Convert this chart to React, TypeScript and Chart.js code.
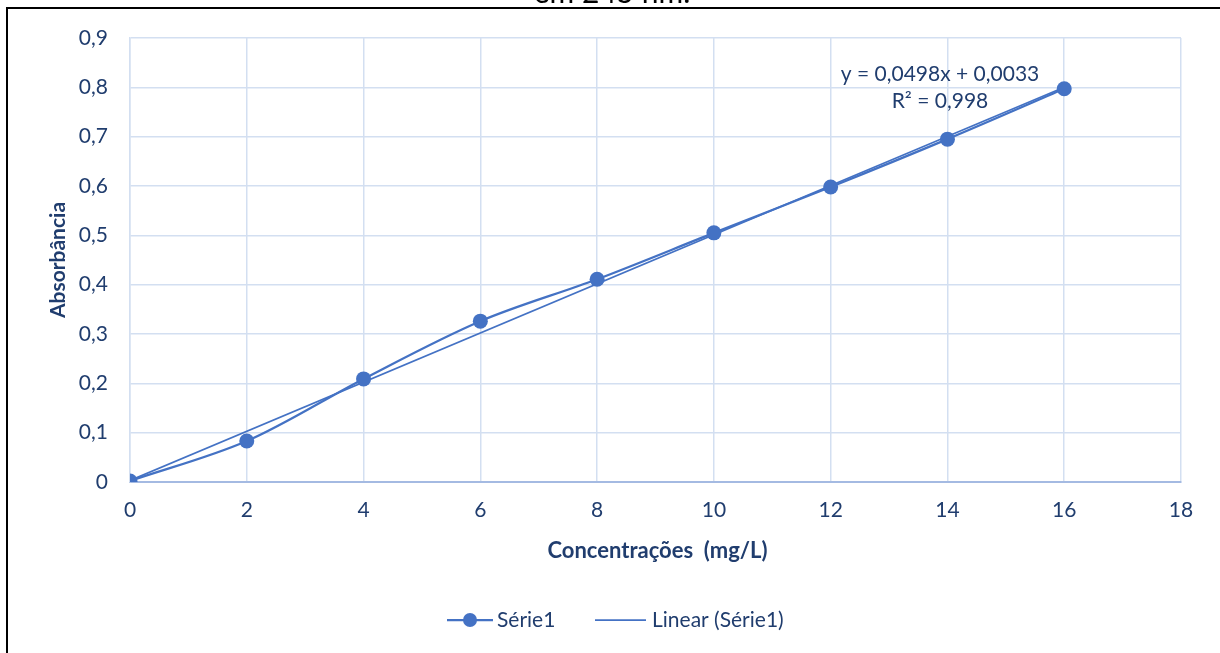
import React, { useEffect, useRef } from 'react';
import { Chart, registerables } from 'chart.js';

Chart.register(...registerables);

const concentrations = [0, 2, 4, 6, 8, 10, 12, 14, 16];
const absorbance = [0.002, 0.083, 0.209, 0.326, 0.411, 0.505, 0.598, 0.695, 0.797];
const trendX = [0, 16];
const trendY = [0.0033, 0.8001];
const xTickLabels = ['0', '2', '4', '6', '8', '10', '12', '14', '16', '18'];
const yTickLabels = ['0', '0,1', '0,2', '0,3', '0,4', '0,5', '0,6', '0,7', '0,8', '0,9'];
const seriesLabel = 'Série1';
const trendLabel = 'Linear (Série1)';
const equationLines = ['y = 0,0498x + 0,0033', 'R² = 0,998'];
const chartTitle = 'em 245 nm.';
const xTitle = 'Concentrações  (mg/L)';
const yTitle = 'Absorbância';

const BLUE = '#4472C4';
const TEXT = '#203D6E';
const GRID = '#D3DFF1';
const FONT = 'Lato, "Open Sans", sans-serif';

const overlay = {
  id: 'overlay',
  afterDraw(chart: any) {
    const ctx = chart.ctx;
    const area = chart.chartArea;
    ctx.save();
    // frame
    ctx.strokeStyle = '#000';
    ctx.lineWidth = 2;
    ctx.beginPath();
    ctx.moveTo(7, 653);
    ctx.lineTo(7, 8);
    ctx.lineTo(1220, 8);
    ctx.stroke();
    // cropped title
    ctx.fillStyle = '#000';
    ctx.font = `30px ${FONT}`;
    ctx.textAlign = 'center';
    ctx.textBaseline = 'alphabetic';
    ctx.fillText(chartTitle, 612, 3);
    // y title
    ctx.fillStyle = TEXT;
    ctx.font = `bold 21px ${FONT}`;
    ctx.textBaseline = 'middle';
    ctx.save();
    ctx.translate(58, (area.top + area.bottom) / 2);
    ctx.rotate(-Math.PI / 2);
    ctx.fillText(yTitle, 0, 0);
    ctx.restore();
    // x title
    ctx.font = `bold 22px ${FONT}`;
    ctx.fillText(xTitle, (area.left + area.right) / 2 + 2, 551);
    // equation
    ctx.font = `21px ${FONT}`;
    ctx.fillText(equationLines[0], 940, 74);
    ctx.fillText(equationLines[1], 940, 101);
    // legend
    const ly = 620;
    ctx.strokeStyle = BLUE;
    ctx.lineWidth = 2.25;
    ctx.beginPath();
    ctx.moveTo(447, ly);
    ctx.lineTo(493, ly);
    ctx.stroke();
    ctx.fillStyle = BLUE;
    ctx.beginPath();
    ctx.arc(470, ly, 7, 0, Math.PI * 2);
    ctx.fill();
    ctx.lineWidth = 1.75;
    ctx.beginPath();
    ctx.moveTo(595, ly);
    ctx.lineTo(646, ly);
    ctx.stroke();
    ctx.fillStyle = TEXT;
    ctx.textAlign = 'left';
    ctx.fillText(seriesLabel, 497, ly);
    ctx.fillText(trendLabel, 652, ly);
    ctx.restore();
  },
};

export default function App() {
  const ref = useRef<HTMLCanvasElement>(null);
  useEffect(() => {
    if (!ref.current) return;
    const chart = new Chart(ref.current, {
      type: 'scatter',
      data: {
        datasets: [
          {
            label: seriesLabel,
            data: concentrations.map((x, i) => ({ x, y: absorbance[i] })),
            showLine: true,
            borderColor: BLUE,
            backgroundColor: BLUE,
            borderWidth: 2.25,
            pointRadius: 7.5,
            pointBorderWidth: 0,
            tension: 0.33,
            order: 1,
          },
          {
            label: trendLabel,
            data: trendX.map((x, i) => ({ x, y: trendY[i] })),
            showLine: true,
            borderColor: BLUE,
            backgroundColor: BLUE,
            borderWidth: 1.75,
            pointRadius: 0,
            order: 2,
          },
        ],
      },
      options: {
        animation: false,
        responsive: false,
        layout: { padding: { left: 0, top: 38, right: 39, bottom: 0 } },
        plugins: { legend: { display: false }, tooltip: { enabled: false }, title: { display: false } },
        scales: {
          x: {
            type: 'linear',
            min: 0,
            max: 18,
            ticks: {
              stepSize: 2,
              color: TEXT,
              font: { family: FONT, size: 21 },
              padding: 16,
              maxRotation: 0,
              callback: (_v: any, i: number) => xTickLabels[i],
            },
            grid: { color: GRID, lineWidth: 1.5, drawTicks: false },
            border: { color: '#A4BAE2', width: 2 },
            afterFit: (s: any) => { s.height = 171; },
          },
          y: {
            type: 'linear',
            min: 0,
            max: 0.9,
            ticks: {
              stepSize: 0.1,
              color: TEXT,
              font: { family: FONT, size: 21 },
              padding: 22,
              callback: (_v: any, i: number) => yTickLabels[i],
            },
            grid: { color: GRID, lineWidth: 1.5, drawTicks: false },
            border: { color: GRID, width: 1.5 },
            afterFit: (s: any) => { s.width = 130; },
          },
        },
      },
      plugins: [overlay],
    });
    return () => chart.destroy();
  }, []);
  return (
    <div style={{ position: 'fixed', left: 0, top: 0, width: 1220, height: 653, background: '#fff' }}>
      <canvas ref={ref} width={1220} height={653} style={{ display: 'block' }} />
    </div>
  );
}
